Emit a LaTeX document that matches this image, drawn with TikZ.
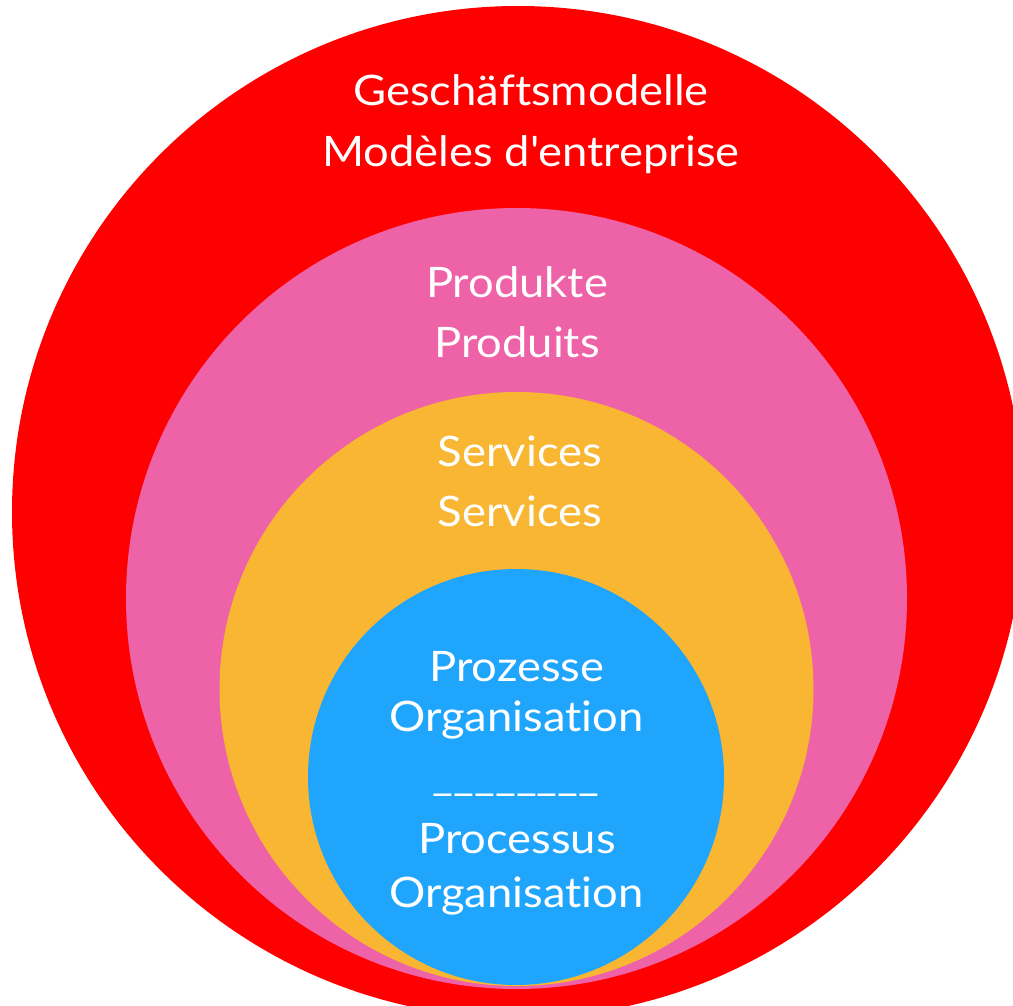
\documentclass[tikz,border=0pt]{standalone}
\usepackage{fontspec}
\setmainfont{Lato}[FakeStretch=1.08,Ligatures={NoCommon}]
\definecolor{cred}{HTML}{FF0000}
\definecolor{cpink}{HTML}{EE62A8}
\definecolor{corange}{HTML}{F9B632}
\definecolor{cblue}{HTML}{20A5FC}
\tikzset{
  ring/.style={circle, inner sep=0pt, outer sep=0pt, draw=none},
  lbl/.style={text=white, anchor=base, inner sep=0pt, font=\fontsize{42}{50}\selectfont},
}
\begin{document}
\begin{tikzpicture}[x=1pt,y=-1pt]
\useasboundingbox (0,0) rectangle (1013,1006);
\clip (0,0) rectangle (1013,1006);
\node[ring, fill=cred, minimum size=1012pt] (red) at (518,512) {};
\node[ring, fill=cpink, minimum size=781pt] (pink) at (516.5,598.5) {};
\node[ring, fill=corange, minimum size=594pt] (orange) at (516.5,689) {};
\node[ring, fill=cblue, minimum size=416pt] (blue) at (516,777) {};
\node[lbl] (t1) at (531,106) {Geschäftsmodelle};
\node[lbl] (t2) at (531,167) {Modèles d\textquotesingle entreprise};
\node[lbl] (t3) at (517,297) {Produkte};
\node[lbl] (t4) at (517,357) {Produits};
\node[lbl] (t5) at (520,466) {Services};
\node[lbl] (t6) at (520,526) {Services};
\node[lbl] (t7) at (517,681) {Prozesse};
\node[lbl] (t8) at (516.5,731) {Organisation};
\node[lbl] (t9) at (516,790) {\_\_\_\_\_\_\_\_};
\node[lbl] (t10) at (517,853) {Processus};
\node[lbl] (t11) at (516.5,907) {Organisation};
\end{tikzpicture}
\end{document}
